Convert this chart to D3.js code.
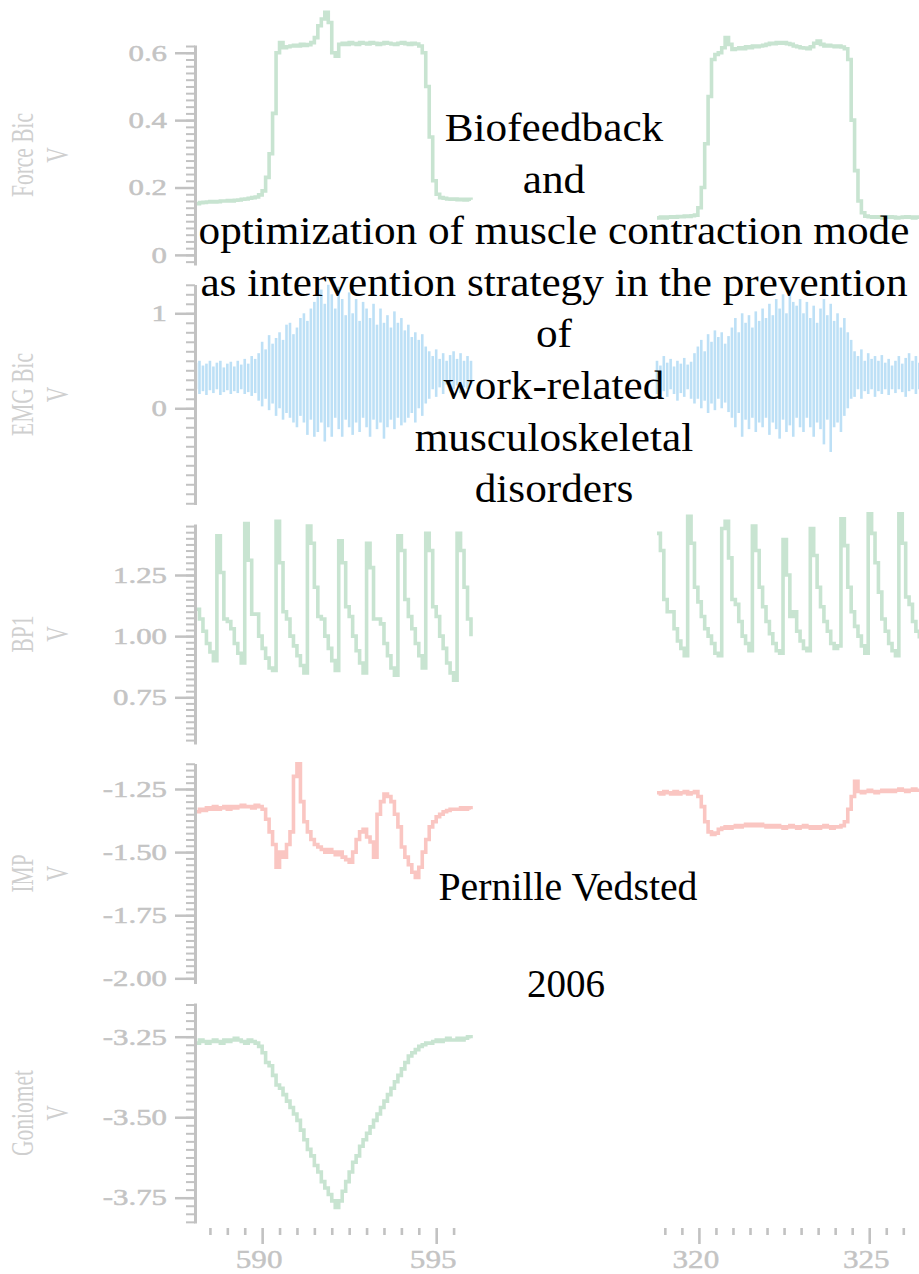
<!DOCTYPE html>
<html><head><meta charset="utf-8">
<script src="https://cdn.jsdelivr.net/npm/d3@7"></script>
<style>body{margin:0;background:#fff} svg{display:block}</style>
</head><body>
<svg id="chart" width="919" height="1274"></svg>
<script>
// ---- recorded channels, sampled every 0.1 s ----
const sampleStep = 0.1;
const leftStart = 588.1;   // seconds, first trial window
const rightStart = 318.77; // seconds, second trial window

const forceLeft = [0.152,0.155,0.156,0.157,0.158,0.157,0.158,0.16,0.16,0.161,0.16,0.162,0.163,0.165,0.166,0.168,0.17,0.172,
 0.178,0.19,0.23,0.3,0.42,0.6,0.63,0.615,
 0.618,0.62,0.622,0.62,0.625,0.622,0.624,0.63,
 0.645,0.68,0.7,0.72,0.69,0.6,0.59,0.625,
 0.628,0.625,0.63,0.627,0.625,0.63,0.628,0.626,0.63,0.628,0.625,0.627,0.63,0.628,0.626,0.625,0.628,0.63,0.627,0.625,0.628,0.626,
 0.62,0.6,0.5,0.35,0.22,0.18,0.17,
 0.168,0.166,0.165,0.166,0.164,0.165,0.163,0.165,0.164];
const forceRight = [0.11,0.112,0.11,0.112,0.113,0.112,0.114,0.113,0.115,0.114,0.116,0.118,
 0.14,0.2,0.33,0.47,0.58,0.595,0.6,0.615,0.645,0.625,0.61,
 0.612,0.615,0.612,0.618,0.615,0.62,0.618,0.62,0.622,0.625,0.628,0.627,0.63,0.628,0.63,0.627,0.625,0.62,0.618,0.615,0.614,0.612,0.618,0.628,0.635,0.625,0.62,0.622,0.62,0.618,0.62,0.617,0.612,
 0.58,0.4,0.25,0.16,0.125,
 0.115,0.113,0.112,0.113,0.112,0.11,0.112,0.113,0.112,0.11,0.111,0.112,0.113,0.112,0.11,0.112,0.111];

const emgLeftHi = [0.48,0.5,0.45,0.47,0.5,0.44,0.48,0.5,0.43,0.47,0.49,0.44,0.5,0.46,0.52,0.47,0.55,0.52,
 0.58,0.7,0.62,0.77,0.68,
 0.74,0.8,0.72,0.88,0.9,0.78,
 0.85,0.95,1.0,0.92,1.05,1.12,
 1.18,1.25,1.1,1.3,1.2,1.05,1.28,1.15,0.98,1.22,
 1.0,1.15,0.92,1.12,1.05,0.95,1.1,0.88,
 1.05,0.9,0.98,0.85,1.02,0.9,0.95,0.82,
 0.88,0.75,0.8,0.72,0.78,0.65,
 0.6,0.55,0.62,0.52,0.58,0.5,0.56,0.6,0.52,0.58,0.5,0.55,0.5];
const emgLeftLo = [0.2,0.15,0.18,0.14,0.19,0.16,0.2,0.14,0.17,0.19,0.15,0.18,0.16,0.2,0.15,0.17,0.13,0.16,
 0.08,0.02,0.1,-0.02,0.05,
 -0.08,0.0,-0.12,-0.05,-0.1,-0.15,
 -0.2,-0.08,-0.15,-0.28,-0.12,-0.3,
 -0.25,-0.15,-0.35,-0.2,-0.3,-0.1,-0.22,-0.3,-0.12,-0.2,
 -0.28,-0.15,-0.25,-0.1,-0.2,-0.3,-0.12,-0.22,
 -0.15,-0.32,-0.2,-0.12,-0.22,-0.1,-0.18,-0.15,
 -0.1,-0.05,-0.15,0.0,-0.08,0.05,
 0.1,0.2,0.12,0.22,0.15,0.25,0.18,0.2,0.24,0.16,0.22,0.2,0.25];
const emgRightHi = [0.5,0.45,0.55,0.48,0.52,0.44,0.5,0.47,0.53,0.46,0.49,
 0.58,0.65,0.72,0.6,0.78,0.7,0.82,0.75,0.8,0.68,0.76,
 0.85,0.95,0.8,1.0,0.9,0.98,0.85,1.02,0.92,
 1.05,0.95,1.1,0.98,1.15,1.05,1.2,1.0,1.25,1.12,1.08,1.15,
 1.0,1.12,0.95,1.08,0.9,1.05,1.15,0.98,1.1,0.92,1.0,0.85,0.95,
 0.8,0.72,0.6,0.55,0.62,0.5,0.58,0.52,0.55,
 0.5,0.56,0.48,0.52,0.45,0.5,0.55,0.47,0.53,0.58,0.5,0.55,0.48];
const emgRightLo = [0.15,0.1,0.18,0.12,0.2,0.15,0.08,0.16,0.12,0.2,0.1,
 0.05,0.1,0.0,0.08,-0.05,0.05,-0.02,0.1,0.0,0.06,-0.04,
 -0.1,-0.2,-0.05,-0.3,-0.12,-0.22,-0.1,-0.25,-0.15,
 -0.2,-0.1,-0.28,-0.15,-0.22,-0.32,-0.12,-0.25,-0.18,-0.3,-0.1,-0.2,
 -0.25,-0.1,-0.2,-0.3,-0.15,-0.22,-0.38,-0.12,-0.46,-0.2,-0.15,-0.25,-0.08,
 0.0,0.1,0.12,0.2,0.1,0.18,0.15,0.2,0.12,
 0.18,0.15,0.2,0.14,0.2,0.16,0.2,0.17,0.12,0.18,0.2,0.15,0.2];

const bpLeft = [1.11,1.07,1.02,0.97,0.935,0.9,
 1.41,1.26,1.07,1.06,1.03,0.97,0.93,0.89,
 1.46,1.31,1.09,1.09,1.0,0.95,0.91,0.87,0.86,
 1.47,1.3,1.1,1.07,1.0,0.96,0.92,0.88,0.85,
 1.45,1.38,1.2,1.08,1.07,1.0,0.95,0.9,0.86,
 1.39,1.3,1.12,1.08,1.0,0.94,0.89,0.85,
 1.38,1.28,1.07,1.07,1.05,0.97,0.92,0.87,0.84,
 1.41,1.35,1.15,1.08,1.03,0.97,0.92,0.87,
 1.42,1.35,1.12,1.08,1.0,0.95,0.89,0.85,0.82,
 1.42,1.35,1.2,1.07,1.0];
const bpRight = [1.42,1.35,1.15,1.1,1.1,1.03,0.98,0.95,0.92,
 1.49,1.38,1.2,1.14,1.08,1.03,1.0,0.97,0.93,0.92,
 1.44,1.47,1.32,1.15,1.13,1.06,1.0,0.97,0.94,
 1.45,1.35,1.2,1.12,1.06,1.01,0.97,0.94,0.93,
 1.395,1.25,1.08,1.1,1.02,0.98,0.95,0.94,
 1.44,1.33,1.2,1.12,1.06,1.02,0.97,0.95,0.96,
 1.48,1.37,1.2,1.1,1.04,1.0,0.96,0.93,
 1.5,1.42,1.3,1.18,1.07,1.02,0.97,0.94,0.92,
 1.5,1.38,1.16,1.13,1.06,1.02,0.99];

const impLeft = [-1.34,-1.33,-1.335,-1.325,-1.33,-1.32,-1.33,-1.325,-1.32,-1.33,-1.32,-1.325,-1.32,-1.315,-1.32,-1.32,-1.325,-1.315,-1.32,
 -1.33,-1.37,-1.42,-1.47,-1.56,-1.5,-1.52,-1.47,-1.42,
 -1.2,-1.15,-1.3,-1.38,-1.42,-1.45,-1.47,-1.48,-1.49,-1.5,-1.49,-1.5,
 -1.51,-1.5,-1.52,-1.53,-1.54,-1.5,-1.45,-1.42,-1.41,-1.44,-1.46,-1.52,
 -1.35,-1.3,-1.27,-1.28,-1.3,-1.35,-1.4,-1.48,-1.52,-1.55,-1.58,-1.6,
 -1.56,-1.5,-1.45,-1.4,-1.38,-1.36,-1.35,
 -1.34,-1.335,-1.33,-1.33,-1.33,-1.325,-1.33,-1.325,-1.33];
const impRight = [-1.265,-1.27,-1.26,-1.265,-1.27,-1.26,-1.27,-1.265,-1.26,-1.27,-1.265,-1.26,-1.28,
 -1.32,-1.38,-1.42,-1.43,-1.425,
 -1.41,-1.405,-1.4,-1.405,-1.4,-1.395,-1.4,-1.395,-1.39,-1.395,-1.39,-1.395,-1.39,-1.395,-1.4,-1.395,-1.4,-1.395,-1.4,-1.405,-1.4,-1.395,-1.4,-1.405,-1.4,-1.395,-1.4,-1.405,-1.4,-1.405,-1.4,-1.395,-1.4,-1.405,-1.4,-1.4,-1.395,
 -1.38,-1.33,-1.28,-1.22,-1.26,
 -1.265,-1.26,-1.255,-1.26,-1.265,-1.26,-1.255,-1.26,-1.255,-1.26,-1.255,-1.25,-1.255,-1.26,-1.255,-1.25,-1.255,-1.25];

const gonioLeft = [-3.27,-3.26,-3.265,-3.27,-3.265,-3.26,-3.265,-3.27,-3.26,-3.265,-3.26,-3.255,-3.26,-3.265,-3.27,-3.26,-3.265,-3.27,
 -3.28,-3.3,-3.33,-3.34,-3.37,-3.4,-3.41,-3.43,-3.45,-3.47,-3.49,-3.51,-3.54,-3.57,-3.6,-3.62,-3.65,-3.67,-3.7,-3.72,-3.74,-3.76,-3.78,
 -3.76,-3.73,-3.7,-3.67,-3.64,-3.62,-3.59,-3.57,-3.55,-3.53,-3.51,-3.49,-3.47,-3.45,-3.43,-3.41,-3.39,-3.37,-3.35,-3.33,-3.31,-3.3,-3.29,-3.28,-3.275,
 -3.27,-3.27,-3.265,-3.26,-3.265,-3.26,-3.255,-3.26,-3.26,-3.255,-3.26,-3.255,-3.25,-3.255];
const gonioRight = [];

// axis ticks per channel
const channelNames = ["Force Bic","EMG Bic","BP1","IMP","Goniomet"];
const channelUnits = ["V","V","V","V","V"];
const yDomains = [[-0.03,0.623],[-1.013,1.303],[0.559,1.4585],[-2.0206,-1.149],[-3.8286,-3.1453]];
const majorTicks = [[0,0.2,0.4,0.6],[0,1],[0.75,1.0,1.25],[-2.0,-1.75,-1.5,-1.25],[-3.75,-3.5,-3.25]];
const majorLabels = [["0","0.2","0.4","0.6"],["0","1"],["0.75","1.00","1.25"],["-2.00","-1.75","-1.50","-1.25"],["-3.75","-3.50","-3.25"]];
const minorSteps = [0.02,0.1,0.025,0.025,0.025];

const xLeftTicks = [588.5,589,589.5,590,590.5,591,591.5,592,592.5,593,593.5,594,594.5,595,595.5];
const xRightTicks = [319,319.5,320,320.5,321,321.5,322,322.5,323,323.5,324,324.5,325,325.5,326];
const xLeftLabels = [590,595];
const xRightLabels = [320,325];

const titleLines = ["Biofeedback","and","optimization of muscle contraction mode","as intervention strategy in the prevention","of","work-related","musculoskeletal","disorders"];
const author = "Pernille Vedsted";
const year = "2006";

// ---- layout ----
const GREEN = "#c8e4d1", BLUE = "#bde0f6", PINK = "#fac6c2";
const AXIS = "#c2c2c2", LABEL = "#c4c4c4", TITLE_GRAY = "#cfcfcf";
const panelTop = 45, panelStep = 239.5, panelH = 220, axisX = 195;
const SERIF = "'Liberation Serif','Times New Roman',serif";

const series = [
  {kind:"line", color:GREEN, left:forceLeft, right:forceRight},
  {kind:"bars", color:BLUE, left:[emgLeftLo,emgLeftHi], right:[emgRightLo,emgRightHi]},
  {kind:"line", color:GREEN, left:bpLeft, right:bpRight},
  {kind:"line", color:PINK, left:impLeft, right:impRight},
  {kind:"line", color:GREEN, left:gonioLeft, right:gonioRight}
];

const svg = d3.select("#chart");
svg.append("rect").attr("width",919).attr("height",1274).attr("fill","#fff");

const xLeft = d3.scaleLinear().domain([588.1,596.0]).range([196,471]);
const xRight = d3.scaleLinear().domain([318.77,326.47]).range([657,919.3]);

const plots = svg.append("g");
const axes = svg.append("g");

series.forEach((s,i) => {
  const top = panelTop + i*panelStep;
  const y = d3.scaleLinear().domain(yDomains[i]).range([top+panelH, top]);

  // signal traces
  [[s.left, leftStart, xLeft],[s.right, rightStart, xRight]].forEach(([vals,t0,x]) => {
    if (s.kind === "line") {
      if (!vals.length) return;
      const line = d3.line().curve(d3.curveStepAfter)
        .x((d,k) => x(t0 + k*sampleStep)).y(d => y(d));
      plots.append("path").attr("d", line(vals))
        .attr("fill","none").attr("stroke", s.color).attr("stroke-width",3.6);
    } else {
      const [lo,hi] = vals;
      plots.append("g").selectAll("line").data(hi).join("line")
        .attr("x1",(d,k)=>x(t0 + k*sampleStep)).attr("x2",(d,k)=>x(t0 + k*sampleStep))
        .attr("y1",(d,k)=>y(lo[k])).attr("y2",d=>y(d))
        .attr("stroke", s.color).attr("stroke-width",2.6);
    }
  });

  // y axis: minor ticks + spine
  const step = minorSteps[i];
  const [d0,d1] = yDomains[i];
  const minor = d3.range(Math.ceil(d0/step - 1e-6), Math.floor(d1/step + 1e-6)+1).map(n => +(n*step).toFixed(4));
  const gMinor = axes.append("g").attr("transform",`translate(${axisX},0)`)
    .call(d3.axisLeft(y).tickValues(minor).tickSize(9).tickSizeOuter(0).tickFormat(""));
  gMinor.select(".domain").attr("stroke",AXIS).attr("stroke-width",3);
  gMinor.selectAll(".tick line").attr("stroke",AXIS).attr("stroke-width",2);

  const gMajor = axes.append("g").attr("transform",`translate(${axisX},0)`)
    .call(d3.axisLeft(y).tickValues(majorTicks[i]).tickSize(20).tickSizeOuter(0).tickFormat(""));
  gMajor.select(".domain").remove();
  gMajor.selectAll(".tick line").attr("stroke",AXIS).attr("stroke-width",2.5);

  majorTicks[i].forEach((v,j) => {
    axes.append("text")
      .attr("transform",`translate(${axisX-28},${y(v)+7.8}) scale(1.34,1)`)
      .attr("text-anchor","end")
      .attr("font-family",SERIF)
      .attr("font-size",23).attr("fill",LABEL)
      .attr("stroke",LABEL).attr("stroke-width",0.5)
      .text(majorLabels[i][j]);
  });

  // channel name and unit, rotated
  const cy = top + panelH/2;
  [[channelNames[i],33],[channelUnits[i],68]].forEach(([txt,bx]) => {
    axes.append("text")
      .attr("transform",`translate(${bx},${cy}) rotate(-90) scale(1,1.5)`)
      .attr("text-anchor","middle")
      .attr("font-family",SERIF)
      .attr("font-size",21.5).attr("fill",TITLE_GRAY)
      .text(txt);
  });
});

// time axes (ticks only)
[[xLeft,xLeftTicks,xLeftLabels],[xRight,xRightTicks,xRightLabels]].forEach(([x,ticks,labels]) => {
  const minor = ticks.filter(t => !labels.includes(t));
  const gMin = axes.append("g").attr("transform","translate(0,1228)")
    .call(d3.axisBottom(x).tickValues(minor).tickSize(7).tickSizeOuter(0).tickFormat(""));
  gMin.select(".domain").remove();
  gMin.selectAll(".tick line").attr("stroke",AXIS).attr("stroke-width",2.6);
  const gMaj = axes.append("g").attr("transform","translate(0,1228)")
    .call(d3.axisBottom(x).tickValues(labels).tickSize(16).tickSizeOuter(0).tickFormat(""));
  gMaj.select(".domain").remove();
  gMaj.selectAll(".tick line").attr("stroke",AXIS).attr("stroke-width",2.6);
  labels.forEach(t => {
    axes.append("text")
      .attr("transform",`translate(${x(t)-3},1268) scale(1.27,1)`)
      .attr("text-anchor","middle")
      .attr("font-family",SERIF)
      .attr("font-size",24.5).attr("fill",LABEL)
      .attr("stroke",LABEL).attr("stroke-width",0.4)
      .text(t);
  });
});

// title block
const tg = svg.append("g").attr("font-family",SERIF).attr("fill","#000").attr("text-anchor","middle");
titleLines.forEach((line,i) => {
  tg.append("text").attr("transform",`translate(554,${141 + i*51.6}) scale(1.06,1)`)
    .attr("font-size",40.8).text(line);
});
tg.append("text").attr("x",568).attr("y",900).attr("font-size",39.8).text(author);
tg.append("text").attr("x",566).attr("y",997).attr("font-size",39).text(year);
</script>
</body></html>
